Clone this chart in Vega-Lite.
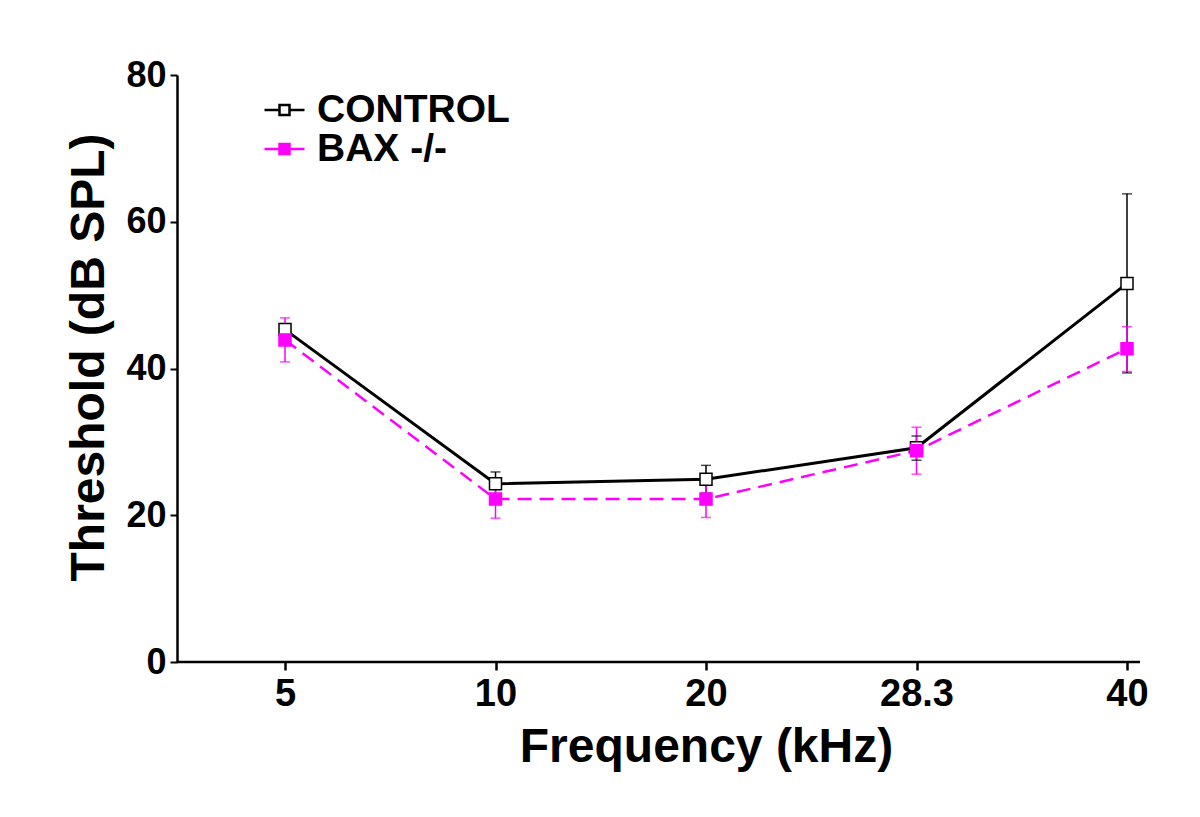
{
  "$schema": "https://vega.github.io/schema/vega-lite/v6.json",
  "width": 963,
  "height": 587,
  "autosize": {"type": "none"},
  "padding": {"left": 177, "top": 75, "right": 60, "bottom": 155},
  "background": "white",
  "config": {"view": {"stroke": null}, "font": "Liberation Sans", "axis": {"grid": false}},
  "data": {"values": [
    {"group": "CONTROL", "freq": "5", "threshold": 45.3, "lo": 44.6, "hi": 46.0},
    {"group": "CONTROL", "freq": "10", "threshold": 24.3, "lo": 22.7, "hi": 25.9},
    {"group": "CONTROL", "freq": "20", "threshold": 24.9, "lo": 23.0, "hi": 26.8},
    {"group": "CONTROL", "freq": "28.3", "threshold": 29.2, "lo": 27.5, "hi": 30.8},
    {"group": "CONTROL", "freq": "40", "threshold": 51.6, "lo": 39.4, "hi": 63.8},
    {"group": "BAX -/-", "freq": "5", "threshold": 43.9, "lo": 40.9, "hi": 46.9},
    {"group": "BAX -/-", "freq": "10", "threshold": 22.2, "lo": 19.6, "hi": 24.8},
    {"group": "BAX -/-", "freq": "20", "threshold": 22.2, "lo": 19.7, "hi": 24.7},
    {"group": "BAX -/-", "freq": "28.3", "threshold": 28.8, "lo": 25.6, "hi": 32.0},
    {"group": "BAX -/-", "freq": "40", "threshold": 42.7, "lo": 39.6, "hi": 45.7}
  ]},
  "encoding": {
    "x": {
      "field": "freq", "type": "ordinal", "sort": ["5", "10", "20", "28.3", "40"],
      "scale": {"type": "point", "range": [108, 950], "padding": 0},
      "axis": {
        "title": "Frequency (kHz)", "domain": false, "labelAngle": 0,
        "labelFontSize": 38, "labelFontWeight": "bold", "labelColor": "black",
        "tickColor": "black", "tickWidth": 2.5, "tickSize": 8, "labelPadding": 5,
        "titleFontSize": 48, "titleFontWeight": "bold", "titlePadding": 10, "titleColor": "black"
      }
    }
  },
  "layer": [
    {
      "data": {"values": [{}]},
      "mark": {"type": "rule", "strokeWidth": 2.5, "color": "black"},
      "encoding": {"x": null, "y": {"datum": 0, "type": "quantitative", "scale": {"domain": [0, 80], "nice": false}}}
    },
    {
      "mark": {"type": "rule", "strokeWidth": 1.5},
      "encoding": {
        "y": {"field": "lo", "type": "quantitative", "scale": {"domain": [0, 80], "nice": false},
          "axis": {
            "title": "Threshold (dB SPL)", "values": [0, 20, 40, 60, 80],
            "domainColor": "black", "domainWidth": 2.5, "tickColor": "black", "tickWidth": 2, "tickSize": 7,
            "labelFontSize": 36, "labelFontWeight": "bold", "labelColor": "black", "labelPadding": 4,
            "titleFontSize": 48, "titleFontWeight": "bold", "titleColor": "black", "titlePadding": 12,
            "titleY": 282
          }},
        "y2": {"field": "hi"},
        "stroke": {"field": "group", "type": "nominal", "scale": {"domain": ["CONTROL", "BAX -/-"], "range": ["#000000", "#ff00ff"]}}
      }
    },
    {
      "mark": {"type": "tick", "thickness": 1.5, "size": 10},
      "encoding": {
        "y": {"field": "lo", "type": "quantitative"},
        "color": {"field": "group", "type": "nominal", "scale": {"domain": ["BAX -/-", "CONTROL"], "range": ["#ff00ff", "#000000"]}, "legend": null}
      }
    },
    {
      "mark": {"type": "tick", "thickness": 1.5, "size": 10},
      "encoding": {
        "y": {"field": "hi", "type": "quantitative"},
        "color": {"field": "group", "type": "nominal", "legend": null}
      }
    },
    {
      "transform": [{"filter": "datum.group == 'BAX -/-'"}],
      "mark": {"type": "line", "strokeWidth": 2.5, "strokeDash": [14, 8]},
      "encoding": {
        "y": {"field": "threshold", "type": "quantitative"},
        "stroke": {"field": "group", "type": "nominal"}
      }
    },
    {
      "transform": [{"filter": "datum.group == 'CONTROL'"}],
      "mark": {"type": "line", "strokeWidth": 3},
      "encoding": {
        "y": {"field": "threshold", "type": "quantitative"},
        "stroke": {"field": "group", "type": "nominal"}
      }
    },
    {
      "mark": {"type": "point", "shape": "square", "size": 144, "strokeWidth": 1.5, "opacity": 1, "filled": true},
      "encoding": {
        "y": {"field": "threshold", "type": "quantitative"},
        "stroke": {"field": "group", "type": "nominal",
          "legend": {
            "orient": "none", "legendX": 86, "legendY": 20, "title": null, "padding": 0,
            "symbolType": "M-1,0H-0.25M0.25,0H1M-0.25,-0.25H0.25V0.25H-0.25Z",
            "symbolSize": 1600, "symbolStrokeWidth": 2.5, "symbolOpacity": 1,
            "labelFontSize": 39, "labelFont": "Liberation Sans", "labelFontWeight": "bold", "labelColor": "black",
            "labelOffset": 11, "rowPadding": 0, "clipHeight": 30, "labelLimit": 500
          }},
        "fill": {"field": "group", "type": "nominal",
          "scale": {"domain": ["CONTROL", "BAX -/-"], "range": ["#ffffff", "#ff00ff"]},
          "legend": {
            "orient": "none", "legendX": 86, "legendY": 20, "title": null, "padding": 0,
            "symbolType": "M-1,0H-0.25M0.25,0H1M-0.25,-0.25H0.25V0.25H-0.25Z",
            "symbolSize": 1600, "symbolStrokeWidth": 2.5, "symbolOpacity": 1,
            "labelFontSize": 39, "labelFont": "Liberation Sans", "labelFontWeight": "bold", "labelColor": "black",
            "labelOffset": 11, "rowPadding": 0, "clipHeight": 30, "labelLimit": 500
          }
        }
      }
    }
  ]
}
